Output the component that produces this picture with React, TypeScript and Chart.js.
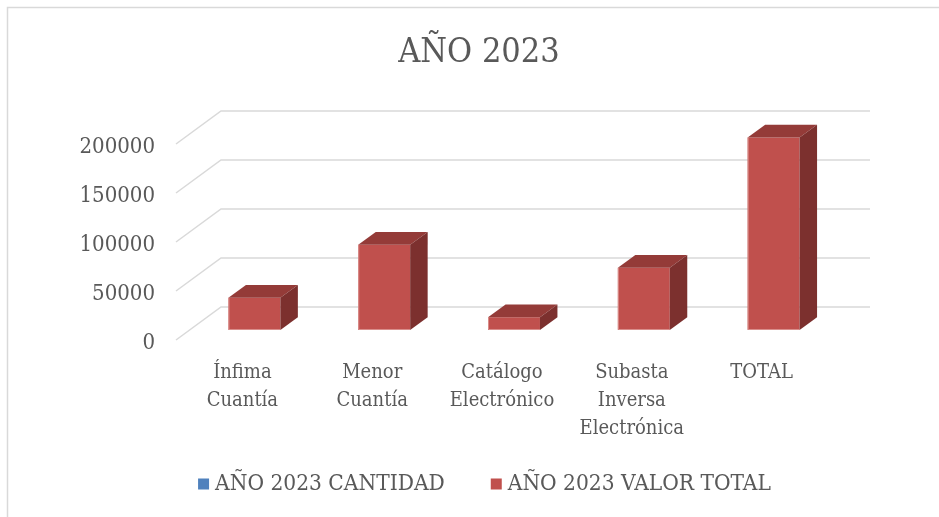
import React, { useEffect, useRef } from 'react';
import { Chart, registerables } from 'chart.js';

Chart.register(...registerables);

// ---- data ----
const TITLE = 'AÑO 2023';
const categories: string[][] = [
  ['Ínfima', 'Cuantía'],
  ['Menor', 'Cuantía'],
  ['Catálogo', 'Electrónico'],
  ['Subasta', 'Inversa', 'Electrónica'],
  ['TOTAL'],
];
const seriesNames = ['AÑO 2023 CANTIDAD', 'AÑO 2023 VALOR TOTAL'];
const cantidad = [0, 0, 0, 0, 0];
const valorTotal = [33000, 87000, 13000, 63500, 196500];
const yTicks = [0, 50000, 100000, 150000, 200000];

// ---- styles ----
const FONT = "'DejaVu Serif Condensed', 'DejaVu Serif', serif";
const TEXT = '#595959';
const GRID = '#d9d9d9';
const FRONT_COLORS = ['#4F81BD', '#C0504D'];
const TOP_COLORS = ['#3E6695', '#943B38'];
const SIDE_COLORS = ['#345680', '#7C302E'];
const EDGE_COLORS = ['#8FB0DA', '#D98E8B'];
const FRONT = { dx: -13.5, dy: 10 };
const BACK = { dx: 31.5, dy: -23 };
const BAR_DEPTH = { dx: 17.5, dy: -12.7 };

const threeD = {
  id: 'threeD',
  beforeDraw(chart: any) {
    const ctx = chart.ctx;
    ctx.save();
    ctx.fillStyle = '#ffffff';
    ctx.fillRect(0, 0, chart.width, chart.height);
    ctx.strokeStyle = GRID;
    ctx.lineWidth = 1.5;
    ctx.beginPath();
    ctx.moveTo(chart.width, 7.5);
    ctx.lineTo(7.5, 7.5);
    ctx.lineTo(7.5, chart.height);
    ctx.stroke();
    ctx.restore();
  },
  beforeDatasetsDraw(chart: any) {
    const { ctx, chartArea, scales } = chart;
    const y = scales.y;
    ctx.save();
    ctx.strokeStyle = GRID;
    ctx.lineWidth = 1.5;
    y.ticks.forEach((t: any) => {
      const py = y.getPixelForValue(t.value);
      ctx.beginPath();
      ctx.moveTo(chartArea.left + FRONT.dx, py + FRONT.dy);
      ctx.lineTo(chartArea.left + BACK.dx, py + BACK.dy);
      ctx.lineTo(chartArea.right + BACK.dx, py + BACK.dy);
      ctx.stroke();
    });
    ctx.restore();
  },
  afterDatasetsDraw(chart: any) {
    const ctx = chart.ctx;
    ctx.save();
    chart.data.datasets.forEach((ds: any, i: number) => {
      const meta = chart.getDatasetMeta(i);
      meta.data.forEach((bar: any) => {
        const { x, y, base, width } = bar.getProps(['x', 'y', 'base', 'width'], true);
        if (Math.abs(base - y) < 0.5) return;
        const l = x - width / 2;
        const r = x + width / 2;
        const { dx, dy } = BAR_DEPTH;
        ctx.fillStyle = TOP_COLORS[i];
        ctx.beginPath();
        ctx.moveTo(l, y);
        ctx.lineTo(r, y);
        ctx.lineTo(r + dx, y + dy);
        ctx.lineTo(l + dx, y + dy);
        ctx.closePath();
        ctx.fill();
        ctx.fillStyle = SIDE_COLORS[i];
        ctx.beginPath();
        ctx.moveTo(r, y);
        ctx.lineTo(r + dx, y + dy);
        ctx.lineTo(r + dx, base + dy);
        ctx.lineTo(r, base);
        ctx.closePath();
        ctx.fill();
        // subtle light edge on the front face (left and bottom)
        ctx.strokeStyle = EDGE_COLORS[i];
        ctx.lineWidth = 1;
        ctx.beginPath();
        ctx.moveTo(l + 0.5, y);
        ctx.lineTo(l + 0.5, base - 0.5);
        ctx.lineTo(r, base - 0.5);
        ctx.stroke();
      });
    });
    ctx.restore();
  },
  afterDraw(chart: any) {
    const ctx = chart.ctx;
    ctx.save();
    ctx.font = `22.5px ${FONT}`;
    ctx.textBaseline = 'middle';
    ctx.textAlign = 'left';
    const box = 11;
    const gap = 6;
    const itemGap = 46;
    const cy = 484;
    const widths = chart.data.datasets.map((ds: any) => ctx.measureText(ds.label).width);
    const total = widths.reduce((a: number, w: number) => a + box + gap + w, 0) + itemGap * (widths.length - 1);
    let x = 484.5 - total / 2;
    chart.data.datasets.forEach((ds: any, i: number) => {
      ctx.fillStyle = FRONT_COLORS[i];
      ctx.fillRect(x, cy - box / 2, box, box);
      ctx.fillStyle = TEXT;
      ctx.fillText(ds.label, x + box + gap, cy);
      x += box + gap + widths[i] + itemGap;
    });
    ctx.restore();
  },
};

export default function App() {
  const ref = useRef<HTMLCanvasElement>(null);
  useEffect(() => {
    if (!ref.current) return;
    const chart = new Chart(ref.current, {
      type: 'bar',
      data: {
        labels: categories,
        datasets: [
          { label: seriesNames[0], data: cantidad, backgroundColor: FRONT_COLORS[0], borderWidth: 0 },
          { label: seriesNames[1], data: valorTotal, backgroundColor: FRONT_COLORS[1], borderWidth: 0 },
        ],
      },
      options: {
        responsive: false,
        animation: false,
        devicePixelRatio: 1,
        datasets: { bar: { grouped: false, categoryPercentage: 1, barPercentage: 0.4 } },
        layout: { padding: { left: 19, right: 0, top: 0, bottom: 0 } },
        plugins: {
          legend: { display: false },
          tooltip: { enabled: false },
          title: {
            display: true,
            text: TITLE,
            color: TEXT,
            font: { family: FONT, size: 34, weight: 'normal', lineHeight: 1.2 },
            padding: { top: 33, bottom: 60.2 },
          },
        },
        scales: {
          x: {
            afterFit: (s: any) => { s.height = 187; },
            grid: { display: false, drawTicks: false },
            border: { display: false },
            ticks: {
              autoSkip: false,
              maxRotation: 0,
              minRotation: 0,
              padding: 29,
              labelOffset: -12,
              color: TEXT,
              font: { family: FONT, size: 20, lineHeight: 1.4 },
            },
          },
          y: {
            min: 0,
            max: 200000,
            afterBuildTicks: (s: any) => { s.ticks = yTicks.map((v) => ({ value: v })); },
            afterFit: (s: any) => { s.width = 170.5; },
            grid: { display: false, drawTicks: false },
            border: { display: false },
            ticks: {
              padding: 34.5,
              labelOffset: 13,
              color: TEXT,
              font: { family: FONT, size: 22 },
              callback: (v: any) => String(v),
            },
          },
          yR: {
            position: 'right',
            display: true,
            grid: { display: false, drawTicks: false },
            border: { display: false },
            ticks: { display: false },
            afterFit: (s: any) => { s.width = 100.5; },
          },
        },
      },
      plugins: [threeD],
    } as any);
    return () => chart.destroy();
  }, []);
  return (
    <div style={{ position: 'fixed', left: 0, top: 0, width: 939, height: 517, background: '#fff' }}>
      <canvas ref={ref} width={939} height={517} style={{ display: 'block' }} />
    </div>
  );
}
